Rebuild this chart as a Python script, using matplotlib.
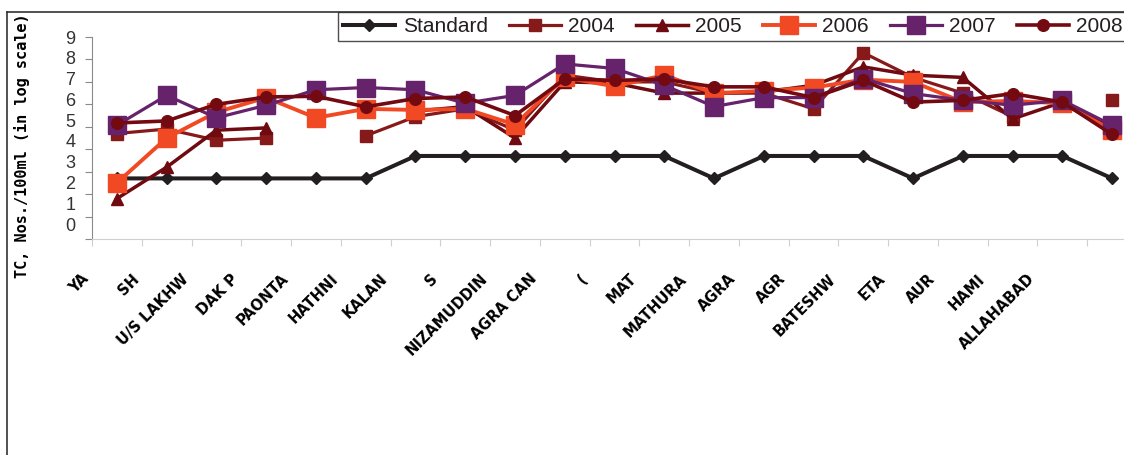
import numpy as np
import matplotlib
matplotlib.use("Agg")
import matplotlib.pyplot as plt
import matplotlib.transforms as mtransforms
from matplotlib.lines import Line2D

nan = np.nan

# sampling stations (labels as they survive in the scanned figure)
stations = ["YA", "SH", "U/S LAKHW", "DAK P", "PAONTA", "HATHNI", "KALAN", "S",
            "NIZAMUDDIN", "AGRA CAN", "(", "MAT", "MATHURA", "AGRA", "AGR",
            "BATESHW", "ETA", "AUR", "HAMI", "ALLAHABAD", ""]

# TC, Nos./100ml in log scale
standard = [2.7, 2.7, 2.7, 2.7, 2.7, 2.7, 3.7, 3.7, 3.7, 3.7, 3.7, 3.7, 2.7,
            3.7, 3.7, 3.7, 2.7, 3.7, 3.7, 3.7, 2.7]
y2004 = [4.7, 4.9, 4.4, 4.5, nan, 4.6, 5.45, 5.8, 4.85, 7.3, 7.0, 7.0, 6.5,
         6.5, 5.8, 8.3, 7.2, 6.5, 5.45, nan, 6.2]
y2005 = [1.8, 3.2, 4.85, 4.95, nan, nan, 5.7, 5.9, 4.5, 7.0, 6.95, 6.5, 6.5,
         6.55, 6.85, 7.67, 7.3, 7.2, 5.35, 6.1, 4.95]
y2006 = [2.5, 4.5, 5.65, 6.3, 5.4, 5.8, 5.75, 5.8, 5.1, 7.2, 6.8, 7.3, 6.5,
         6.6, 6.75, 7.1, 7.0, 6.1, 6.15, 6.05, 4.85]
y2007 = [5.07, 6.4, 5.4, 5.96, 6.65, 6.75, 6.65, 6.05, 6.4, 7.8, 7.6, 6.85, 5.9,
         6.3, 6.3, 7.15, 6.48, 6.18, 5.96, 6.18, 5.07]
y2008 = [5.17, 5.26, 6.0, 6.33, 6.36, 5.89, 6.26, 6.33, 5.5, 7.13, 7.07, 7.12,
         6.78, 6.78, 6.3, 7.07, 6.1, 6.18, 6.48, 6.1, 4.66]

ytick_text = [str(i) for i in range(10)]

W, H = 1124, 455
fig = plt.figure(figsize=(W / 100, H / 100), dpi=100)
# plot area (the scan runs past the right edge)
ax = fig.add_axes([92 / W, (H - 239) / H, (1137 - 92) / W, (239 - 37) / H])

x = np.arange(len(stations))
ax.plot(x, standard, color="#231f20", lw=2.9, marker="D", ms=6.5, label="Standard")
ax.plot(x, y2004, color="#861a1a", lw=2.3, marker="s", ms=8.5, label="2004")
ax.plot(x, y2005, color="#6e0a10", lw=2.5, marker="^", ms=9, label="2005")
ax.plot(x, y2006, color="#f04923", lw=2.8, marker="s", ms=13.5, label="2006")
ax.plot(x, y2007, color="#66226b", lw=2.3, marker="s", ms=13.5, label="2007")
ax.plot(x, y2008, color="#730a12", lw=2.6, marker="o", ms=8.4, label="2008")

ax.set_xlim(-0.5, 20.5)
ax.set_ylim(0, 9)
for s in ["top", "right"]:
    ax.spines[s].set_visible(False)
ax.spines["left"].set_color("#8a8a8a")
ax.spines["bottom"].set_color("#d0d0d0")

# y: tick marks at integers, labels where the scan puts them
ax.set_yticks(range(10))
ax.set_yticklabels([])
ax.set_yticks(np.arange(10) * 0.926 + 0.667, minor=True)
ax.set_yticklabels(ytick_text, minor=True)
ax.tick_params(axis="y", which="major", length=5, color="#8a8a8a")
ax.tick_params(axis="y", which="minor", length=0, pad=12, labelsize=13,
               labelcolor="#333333")
for t in ax.get_yticklabels(minor=True):
    t.set_family("Liberation Sans")

# x: marks between categories, labels at categories
ax.set_xticks(np.arange(-0.5, 21, 1))
ax.set_xticklabels([])
ax.set_xticks(x, minor=True)
ax.set_xticklabels(stations, minor=True, rotation=45, ha="right",
                   va="center", rotation_mode="anchor")
ax.tick_params(axis="x", which="major", length=5, color="#d0d0d0")
ax.tick_params(axis="x", which="minor", length=0, pad=4)
shift = mtransforms.ScaledTranslation(-30 / 100, -32 / 100, fig.dpi_scale_trans)
for t in ax.get_xticklabels(minor=True):
    t.set_fontweight("bold")
    t.set_fontsize(10.5)
    t.set_transform(t.get_transform() + shift)

fig.text(22 / W, 1 - 146 / H, "TC, Nos./100ml (in log scale)", rotation=90,
         ha="center", va="center", fontweight="bold", family="DejaVu Sans Mono",
         fontsize=11)

leg = ax.legend(loc="upper left", bbox_to_anchor=(338 / W, 1 - 12 / H),
                bbox_transform=fig.transFigure, ncol=6, frameon=True,
                fancybox=False, borderaxespad=0, borderpad=0.25,
                handlelength=2.5, handletextpad=0.36, columnspacing=1.0,
                prop={"family": "Liberation Sans", "size": 15})
leg.get_frame().set_edgecolor("#222222")
leg.get_frame().set_linewidth(1.0)
for t in leg.get_texts():
    t.set_color("#231f20")

# outer chart border of the scan
fig.add_artist(Line2D([7 / W, 7 / W], [0, 1 - 12 / H], transform=fig.transFigure,
                      color="#333333", lw=1.2))
fig.add_artist(Line2D([7 / W, 1], [1 - 12 / H, 1 - 12 / H], transform=fig.transFigure,
                      color="#333333", lw=1.2))

fig.savefig("out.png", dpi=100)
